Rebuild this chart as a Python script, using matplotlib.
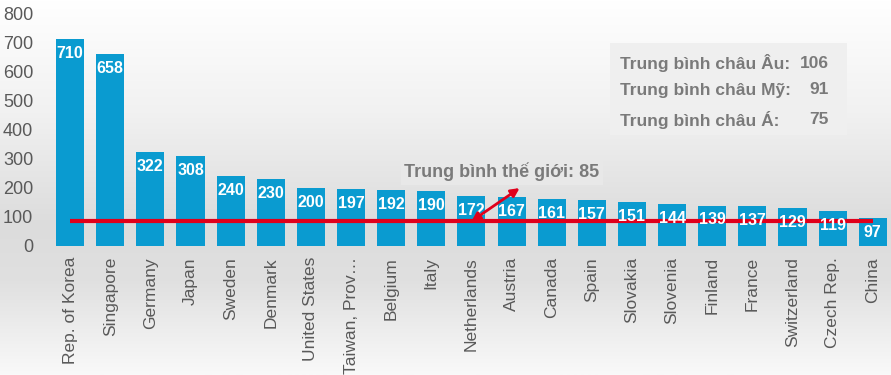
import matplotlib.pyplot as plt
import numpy as np
from matplotlib.colors import LinearSegmentedColormap
from matplotlib.patches import Rectangle

countries = ["Rep. of Korea", "Singapore", "Germany", "Japan", "Sweden", "Denmark",
             "United States", "Taiwan, Prov\u2026", "Belgium", "Italy", "Netherlands",
             "Austria", "Canada", "Spain", "Slovakia", "Slovenia", "Finland", "France",
             "Switzerland", "Czech Rep.", "China"]
values = [710, 658, 322, 308, 240, 230, 200, 197, 192, 190, 172,
          167, 161, 157, 151, 144, 139, 137, 129, 119, 97]
world_avg = 85
region_labels = ["Trung bình châu Âu:", "Trung bình châu Mỹ:", "Trung bình châu Á:"]
region_values = [106, 91, 75]

plt.rcParams['font.family'] = ['Liberation Sans', 'DejaVu Sans']
grey = '#595959'
note_grey = '#7a7a7a'
red = '#e0001b'

fig = plt.figure(figsize=(8.91, 3.75), dpi=100)

# nen gradient
bg = fig.add_axes([0, 0, 1, 1], zorder=0)
cmap = LinearSegmentedColormap.from_list(
    'bg', [(0, '#ffffff'), (0.3, '#f1f1f1'), (0.6, '#dcdcdc'),
           (0.75, '#e0e0e0'), (1, '#f9f9f9')])
bg.imshow(np.linspace(0, 1, 256).reshape(-1, 1), cmap=cmap, aspect='auto',
          extent=[0, 1, 0, 1])
bg.axis('off')

ax = fig.add_axes([0.0606, 0.344, 0.937, 0.621], zorder=1)
ax.set_facecolor('none')
x = np.arange(len(countries))
ax.bar(x, values, width=0.7, color='#0a9bd0', zorder=2)

ax.hlines(world_avg, 0, len(countries) - 1, color=red, lw=3, zorder=3)
for xi, v in zip(x, values):
    ax.annotate(str(v), (xi, v), xytext=(0, -5), textcoords='offset points',
                ha='center', va='top', color='white', fontweight='bold',
                fontsize=11.5, zorder=4)

ax.annotate('', xy=(11.2, 199), xytext=(10, world_avg),
            arrowprops=dict(arrowstyle='<|-|>,head_length=0.5,head_width=0.25',
                            color=red, lw=2, shrinkA=0, shrinkB=0), zorder=5)
ax.text(10.76, 254, 'Trung bình thế giới: 85', ha='center', va='center',
        color=note_grey, fontweight='bold', fontsize=13, zorder=5,
        bbox=dict(boxstyle='square,pad=0.2', fc='#e8e8e8', ec='none'))

ax.set_xlim(-0.4, len(countries) - 0.6)
ax.set_ylim(0, 800)
ax.set_yticks(range(0, 801, 100))
ax.set_xticks(x, countries, rotation=90)
ax.tick_params(axis='y', length=0, pad=15, labelsize=13, labelcolor=grey)
ax.tick_params(axis='x', length=0, pad=8, labelsize=12.5, labelcolor=grey)
for s in ax.spines.values():
    s.set_visible(False)

# hop trung binh theo chau luc
fig.patches.append(Rectangle((0.685, 0.64), 0.266, 0.245, transform=fig.transFigure,
                             fc='#efefef', ec='none', zorder=1))
for i, (lab, val) in enumerate(zip(region_labels, region_values)):
    yy = [0.832, 0.76, 0.68][i]
    fig.text(0.696, yy, lab, ha='left', va='center', color=note_grey,
             fontweight='bold', fontsize=12.5, zorder=2)
    fig.text(0.930, yy, str(val), ha='right', va='center', color=note_grey,
             fontweight='bold', fontsize=12.5, zorder=2)

fig.savefig('out.png', dpi=100)
